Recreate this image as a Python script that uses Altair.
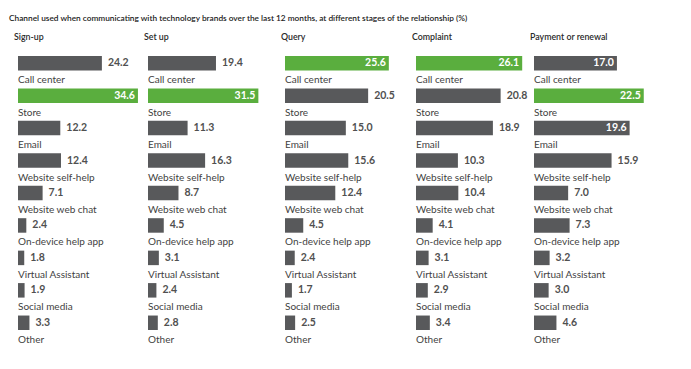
import altair as alt
import pandas as pd

title_text = ("Channel used when communicating with technology brands over the last 12 months, "
              "at different stages of the relationship (%)")
stages = ["Sign-up", "Set up", "Query", "Complaint", "Payment or renewal"]
channels = ["Call center", "Store", "Email", "Website self-help", "Website web chat",
            "On-device help app", "Virtual Assistant", "Social media", "Other"]

signup = [24.2, 34.6, 12.2, 12.4, 7.1, 2.4, 1.8, 1.9, 3.3]
setup = [19.4, 31.5, 11.3, 16.3, 8.7, 4.5, 3.1, 2.4, 2.8]
query = [25.6, 20.5, 15.0, 15.6, 12.4, 4.5, 2.4, 1.7, 2.5]
complaint = [26.1, 20.8, 18.9, 10.3, 10.4, 4.1, 3.1, 2.9, 3.4]
payment = [17.0, 22.5, 19.6, 15.9, 7.0, 7.3, 3.2, 3.0, 4.6]

# channels whose value is printed inside the bar (white), per stage
inside_labels = {
    "Sign-up": ["Store"],
    "Set up": ["Store"],
    "Query": ["Call center"],
    "Complaint": ["Call center"],
    "Payment or renewal": ["Call center", "Store", "Email"],
}

series = [signup, setup, query, complaint, payment]

# layout / scale settings
panel_widths = [130, 137, 131, 118, 140]
domain_max = [37.5, 39.1, 32.3, 29.0, 28.7]
PANEL_H = 292
GREEN = "#5aae3e"
GRAY = "#58595b"
TEXT = "#3f3f3f"

rows = []
for stage, vals in zip(stages, series):
    mx = max(vals)
    for ch, v in zip(channels, vals):
        rows.append({
            "stage": stage,
            "channel": ch,
            "value": v,
            "top": "max" if v == mx else "other",
            "inside": ch in inside_labels[stage],
        })
data = pd.DataFrame(rows)


def panel(i, stage):
    df = data[data["stage"] == stage]
    y = alt.Y("channel:N", sort=channels, axis=None,
              scale=alt.Scale(paddingInner=0, paddingOuter=0))
    x = alt.X("value:Q", axis=None,
              scale=alt.Scale(domain=[0, domain_max[i]], nice=False, zero=True))
    base = alt.Chart(df)
    bars = base.mark_bar(height=14.5, yOffset=-8).encode(
        y=y, x=x,
        color=alt.Color("top:N", legend=None,
                        scale=alt.Scale(domain=["max", "other"], range=[GREEN, GRAY])),
    )
    out_lbl = base.transform_filter("!datum.inside").mark_text(
        align="left", baseline="middle", dx=6, dy=-8,
        font="Lato", fontWeight="bold", fontSize=10.5, color="#505050",
    ).encode(y=y, x=x, text=alt.Text("value:Q", format=".1f"))
    in_lbl = base.transform_filter("datum.inside").mark_text(
        align="right", baseline="middle", dx=-3, dy=-8,
        font="Lato", fontWeight="bold", fontSize=10.5, color="white",
    ).encode(y=y, x=x, text=alt.Text("value:Q", format=".1f"))
    cat_lbl = base.mark_text(
        align="left", baseline="middle", dy=9,
        font="Lato", fontSize=10, color=TEXT,
    ).encode(y=y, x=alt.value(0), text="channel:N")
    return alt.layer(bars, out_lbl, in_lbl, cat_lbl).properties(
        width=panel_widths[i], height=PANEL_H,
        title=alt.TitleParams(stage, anchor="start", dx=-4, offset=13,
                              font="Lato", fontSize=8.8,
                              fontWeight=600, color="#2a2a2a"),
    )


chart = alt.hconcat(*[panel(i, s) for i, s in enumerate(stages)], spacing=0, bounds="flush").properties(
    title=alt.TitleParams(title_text, anchor="start", dx=-5, offset=11,
                          font="Lato", fontSize=8.3,
                          fontWeight=600, color="#222222"),
    padding={"left": 1, "top": 5, "right": 5, "bottom": 5},
).configure_view(stroke=None)

chart.save("out.html", embed_options={"renderer": "svg", "actions": False})
